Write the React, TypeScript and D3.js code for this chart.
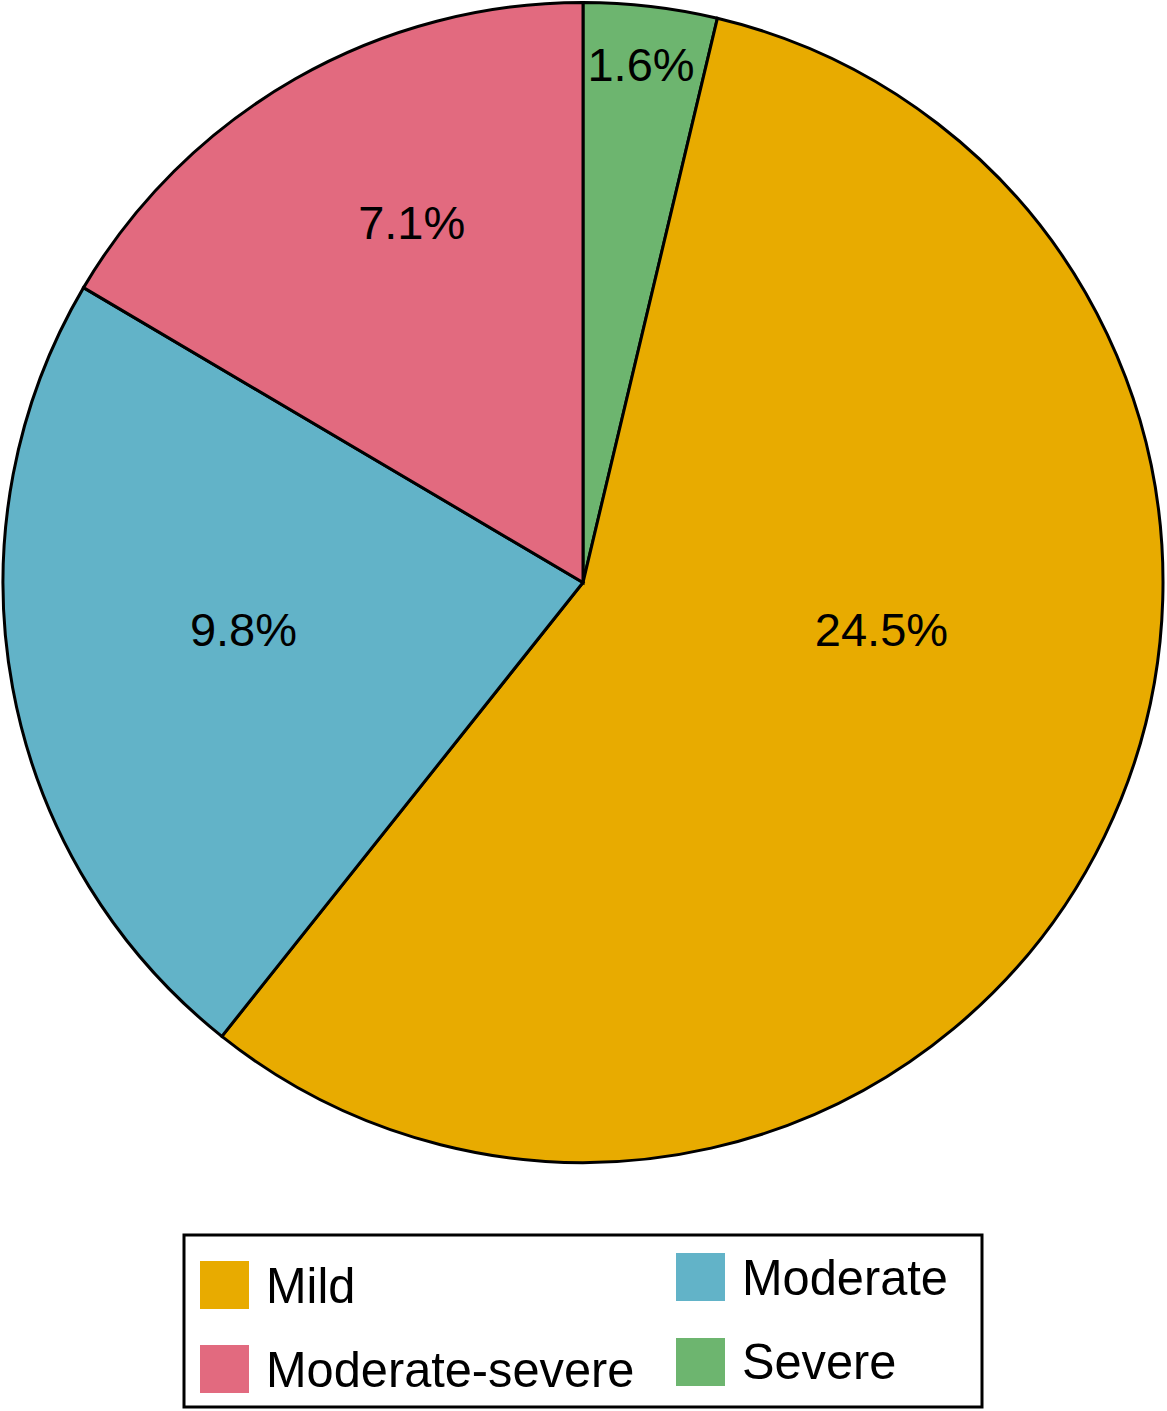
import React from "react";
import * as d3 from "d3";

// Slices in clockwise order from 12 o'clock
const categories = ["Severe", "Mild", "Moderate", "Moderate-severe"];
const values = [1.6, 24.5, 9.8, 7.1];
const labels = ["1.6%", "24.5%", "9.8%", "7.1%"];
const colors = ["#6DB56F", "#E8AB00", "#62B3C8", "#E26A7F"];

// Legend layout order (two columns)
const legendLeft = ["Mild", "Moderate-severe"];
const legendRight = ["Moderate", "Severe"];

// Label placement: angle shift (deg) from slice mid, radius fraction
const labelShift = [-0.3, -17, 2.6, 4.3];
const labelRadius = [0.898, 0.521, 0.591, 0.688];

const W = 1167;
const H = 1411;
const cx = 583;
const cy = 582.5;
const R = 580;

export default function App() {
  const pie = d3
    .pie<number>()
    .sort(null)
    .value((d) => d);
  const arcs = pie(values);
  const arcGen = d3.arc<d3.PieArcDatum<number>>().innerRadius(0).outerRadius(R);
  const colorScale = d3.scaleOrdinal<string, string>().domain(categories).range(colors);

  const labelPos = arcs.map((a, i) => {
    const mid = (a.startAngle + a.endAngle) / 2 + (labelShift[i] * Math.PI) / 180;
    const r = R * labelRadius[i];
    return [r * Math.sin(mid), -r * Math.cos(mid)];
  });

  const legendItem = (name: string, x: number, swatchY: number, textY: number) => (
    <g key={name}>
      <rect x={x} y={swatchY} width={49} height={48} fill={colorScale(name)} />
      <text
        x={0}
        y={0}
        transform={`translate(${x + 66},${textY}) scale(0.975,1)`}
        fontSize={50}
        fontFamily="Liberation Sans, Arial, Helvetica, sans-serif"
        fill="#000"
      >
        {name}
      </text>
    </g>
  );

  return (
    <svg
      width={W}
      height={H}
      style={{ position: "absolute", left: 0, top: 0, background: "#fff" }}
    >
      <g transform={`translate(${cx},${cy})`}>
        {arcs.map((a, i) => (
          <path
            key={categories[i]}
            d={arcGen(a) || ""}
            fill={colorScale(categories[i])}
            stroke="#000"
            strokeWidth={3}
            strokeLinejoin="miter"
          />
        ))}
        {arcs.map((a, i) => (
          <text
            key={"l" + i}
            x={labelPos[i][0]}
            y={labelPos[i][1]}
            textAnchor="middle"
            dominantBaseline="central"
            fontSize={47}
            fontFamily="Liberation Sans, Arial, Helvetica, sans-serif"
            fill="#000"
          >
            {labels[i]}
          </text>
        ))}
      </g>
      <rect x={184} y={1235} width={798} height={172} fill="#fff" stroke="#000" strokeWidth={3} />
      {legendLeft.map((n, i) => legendItem(n, 200, 1261 + i * 84, 1303 + i * 84))}
      {legendRight.map((n, i) => legendItem(n, 676, 1253 + i * 85, 1295 + i * 84))}
    </svg>
  );
}
